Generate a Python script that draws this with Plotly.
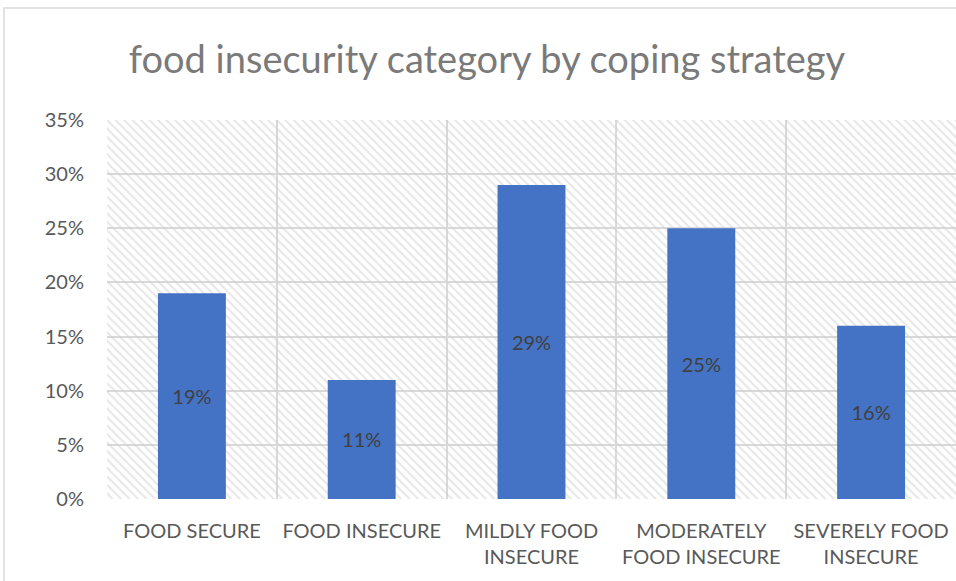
import plotly.graph_objects as go

categories = ["FOOD SECURE", "FOOD INSECURE", "MILDLY FOOD INSECURE",
              "MODERATELY FOOD INSECURE", "SEVERELY FOOD INSECURE"]
tick_labels = ["FOOD SECURE", "FOOD INSECURE", "MILDLY FOOD<br>INSECURE",
               "MODERATELY<br>FOOD INSECURE", "SEVERELY FOOD<br>INSECURE"]
values = [0.19, 0.11, 0.29, 0.25, 0.16]
y_max = 0.35
y_step = 0.05
title = "food insecurity category by coping strategy"

FONT = "Lato"
GRID = "#d9d9d9"
TXT = "#595959"

fig = go.Figure()

# hatched plot-area background (drawn beneath everything, on the base axis)
fig.add_trace(go.Bar(
    x=[0.5], y=[y_max], width=[1],
    xaxis="x", yaxis="y",
    marker=dict(color="rgba(0,0,0,0)", line=dict(width=0),
                pattern=dict(shape="\\", fgcolor="#cfcfcf", bgcolor="rgba(0,0,0,0)",
                             size=6, solidity=0.35)),
    hoverinfo="skip", showlegend=False,
))

# data bars
fig.add_trace(go.Bar(
    x=categories, y=values,
    xaxis="x2", yaxis="y",
    width=0.4,
    marker=dict(color="#4472C4", line=dict(width=0)),
    texttemplate="%{y:.0%}", textposition="inside", insidetextanchor="middle",
    textfont=dict(family=FONT, size=20, color="#404040"),
    constraintext="none",
    showlegend=False,
))

fig.update_layout(
    width=956, height=581,
    margin=dict(l=107, r=0, t=120, b=82),
    paper_bgcolor="white", plot_bgcolor="white",
    barmode="overlay",
    title=dict(text=title, x=487/956, xref="container", xanchor="center",
               y=1 - 60/581, yref="container", yanchor="middle",
               font=dict(family=FONT, size=38, color="#7a7a7a")),
    xaxis=dict(range=[0, 1], visible=False, showgrid=False, zeroline=False, fixedrange=True),
    xaxis2=dict(overlaying="x", side="bottom", type="category",
                categoryorder="array", categoryarray=categories,
                tickvals=categories, ticktext=tick_labels,
                tickson="boundaries", showgrid=True, gridcolor=GRID, gridwidth=1.5,
                ticks="", showline=False, zeroline=False,
                tickfont=dict(family=FONT, size=20, color=TXT),
                ticklabelstandoff=18),
    yaxis=dict(range=[0, y_max], dtick=y_step, tick0=0, tickformat=".0%",
               showgrid=True, gridcolor=GRID, gridwidth=1.5, zeroline=False,
               ticks="", showline=False,
               tickfont=dict(family=FONT, size=20, color=TXT),
               ticklabelstandoff=22),
    shapes=[dict(type="rect", xref="paper", yref="paper",
                 x0=(4 - 107) / 849, x1=1.2, y0=-0.5, y1=(499 - 8) / 379,
                 line=dict(color=GRID, width=1.5), fillcolor="rgba(0,0,0,0)",
                 layer="below")],
)

fig.write_html("out.html")
